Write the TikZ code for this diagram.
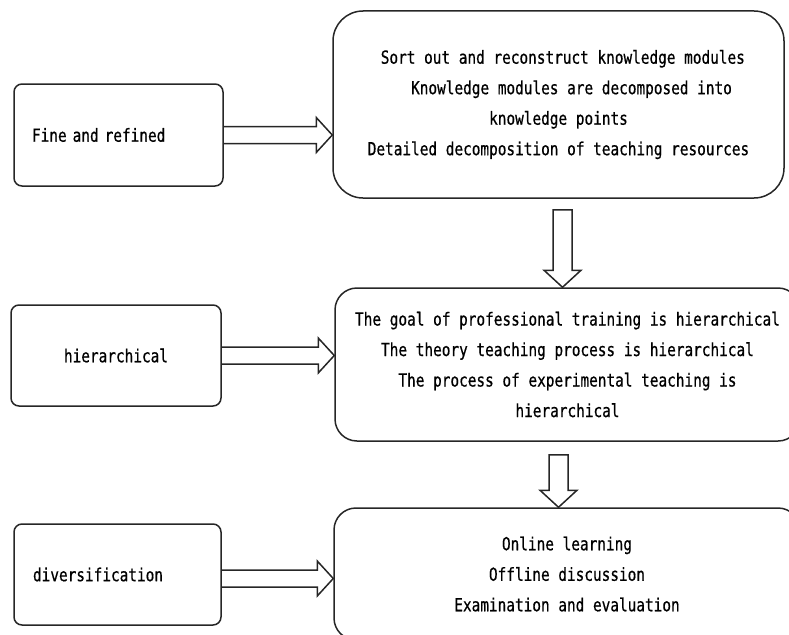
\documentclass[tikz,border=0pt]{standalone}
\usepackage{fontspec}
\newfontfamily\diagfont[FakeStretch=0.8,FakeBold=0.6]{DejaVu Sans Mono}
\usetikzlibrary{calc}
\newcommand\hblock[2]{%
  \draw[barrow] ($(#1)+(0,-8.5)$) -- ($(#2)+(-16,-8.5)$) -- ($(#2)+(-16,-17.5)$) -- (#2)
    -- ($(#2)+(-16,17.5)$) -- ($(#2)+(-16,8.5)$) -- ($(#1)+(0,8.5)$);}
\newcommand\vblock[2]{%
  \draw[barrow] ($(#1)+(-9.5,0)$) -- ($(#2)+(-9.5,-17)$) -- ($(#2)+(-18.5,-17)$) -- (#2)
    -- ($(#2)+(18.5,-17)$) -- ($(#2)+(9.5,-17)$) -- ($(#1)+(9.5,0)$) -- cycle;}
\begin{document}
\begin{tikzpicture}[x=1pt,y=-1pt,
  box/.style={draw=black!85, line width=1.5pt, rounded corners=8pt,
    font=\diagfont\fontsize{18}{30.5}\selectfont},
  barrow/.style={draw=black!85, line width=1.5pt, line join=miter}
]
\useasboundingbox (0,0) rectangle (789,634);
\clip (0,0) rectangle (789,634);

% left boxes
\node[box, text width=173pt, inner xsep=18pt, minimum height=102pt, align=left]
  (fine) at (118.5,135) {Fine and refined};
\node[box, minimum width=210pt, minimum height=101pt]
  (hier) at (116,355.5) {hierarchical};
\node[box, text width=169pt, inner xsep=19pt, minimum height=101pt, align=left]
  (div) at (117.5,574.5) {diversification};

% right boxes
\node[box, rounded corners=30pt, minimum width=451pt, minimum height=187pt, align=center]
  (refine) at (558.5,104.5)
  {\hphantom{x}Sort out and reconstruct knowledge modules\\
   \hphantom{xxx}Knowledge modules are decomposed into\\
   knowledge points\\
   Detailed decomposition of teaching resources};
\node[box, rounded corners=22pt, minimum width=465pt, minimum height=153pt, align=center]
  (hierc) at (567.5,364.5)
  {The goal of professional training is hierarchical\\
   The theory teaching process is hierarchical\\
   The process of experimental teaching is\\
   hierarchical};
\node[box, rounded corners=22pt, minimum width=466pt, minimum height=132pt, align=center]
  (divc) at (567,574)
  {Online learning\\
   Offline discussion\\
   Examination and evaluation};

% horizontal block arrows
\coordinate (h1s) at (fine.east);
\coordinate (h1t) at (fine.east -| refine.west);
\hblock{h1s}{h1t}
\coordinate (h2s) at (hier.east);
\coordinate (h2t) at (hier.east -| hierc.west);
\hblock{h2s}{h2t}
\coordinate (h3s) at ($(div.east)+(0,4)$);
\coordinate (h3t) at (h3s -| divc.west);
\hblock{h3s}{h3t}

% vertical block arrows
\coordinate (v1s) at ($(refine.south)+(4,11)$);
\coordinate (v1t) at (v1s |- hierc.north);
\vblock{v1s}{v1t}
\coordinate (v2s) at ($(hierc.south)+(-9,13)$);
\coordinate (v2t) at (v2s |- divc.north);
\vblock{v2s}{v2t}
\end{tikzpicture}
\end{document}
